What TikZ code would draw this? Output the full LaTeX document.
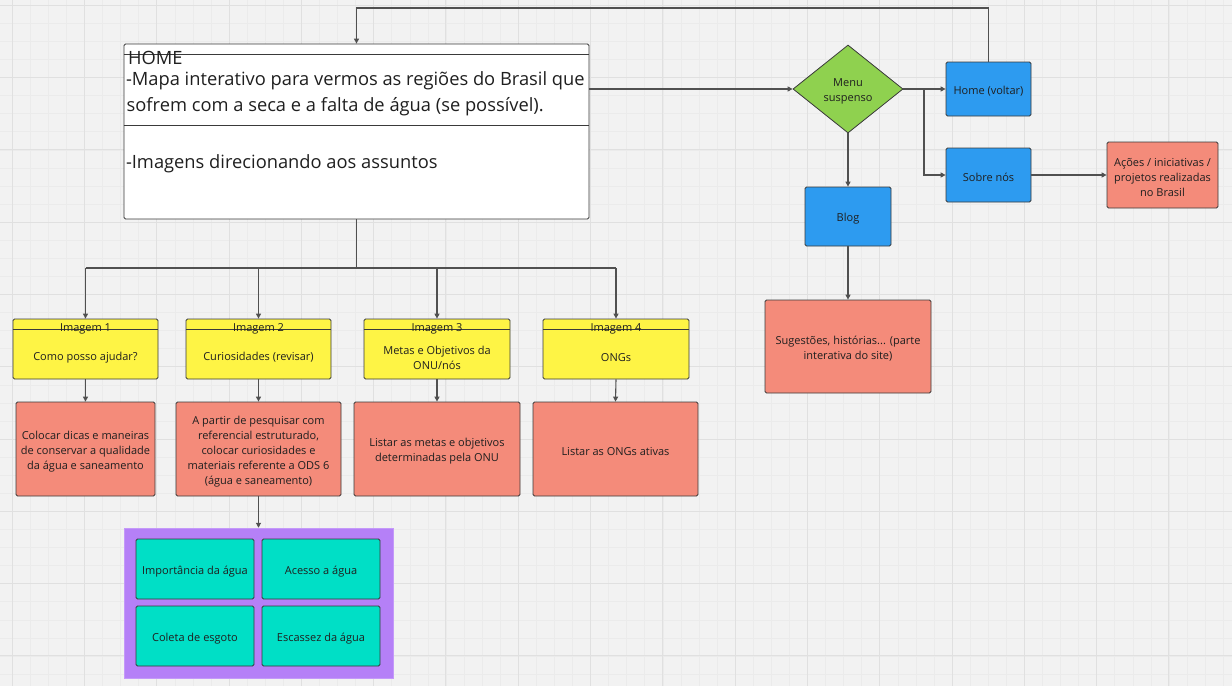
\documentclass[tikz,border=0pt]{standalone}
\usepackage{fontspec}
\setmainfont{Open Sans}
\usetikzlibrary{shapes.geometric,arrows.meta,calc}
\definecolor{bgc}{HTML}{F2F2F2}
\definecolor{gridmin}{HTML}{EBEBEB}
\definecolor{gridmaj}{HTML}{E0E0E0}
\definecolor{edgec}{HTML}{3A3A3A}
\definecolor{linec}{HTML}{505050}
\definecolor{txt}{HTML}{1F1F1F}
\definecolor{yel}{HTML}{FEF445}
\definecolor{salmon}{HTML}{F48B7A}
\definecolor{blu}{HTML}{2D9BF0}
\definecolor{grn}{HTML}{8FD14F}
\definecolor{teal}{HTML}{00DFC6}
\definecolor{purp}{HTML}{B580F7}
\tikzset{
  box/.style={draw=edgec, line width=0.8pt, rounded corners=1.5pt, inner sep=0pt},
  yelbox/.style={box, fill=yel},
  redbox/.style={box, fill=salmon},
  blubox/.style={box, fill=blu},
  tealbox/.style={box, fill=teal},
  lbl/.style={inner sep=0pt, text=txt, align=center, font=\fontsize{11}{15}\selectfont},
  txt/.style={label={[lbl, yshift=-2.5pt]center:{#1}}},
  big/.style={inner sep=0pt, text=txt, anchor=base west, font=\fontsize{18.3}{25}\selectfont},
  conn/.style={draw=linec, line width=1.1pt},
  arr/.style={conn, -{Triangle[length=5pt,width=5pt]}},
}
\begin{document}
\begin{tikzpicture}[x=1pt,y=-1pt]
\useasboundingbox (0,0) rectangle (1232,686);
\begin{scope}
\clip (0,0) rectangle (1232,686);
\fill[bgc] (0,0) rectangle (1232,686);
\foreach \i in {0,...,69} {
  \draw[gridmin, line width=0.5pt] ({-5.975+\i*18.075},0) -- ({-5.975+\i*18.075},686);
}
\foreach \i in {0,...,39} {
  \draw[gridmin, line width=0.5pt] (0,{-12.875+\i*18.075}) -- (1232,{-12.875+\i*18.075});
}
\foreach \i in {0,...,16} {
  \draw[gridmaj, line width=0.9pt] ({12.1+\i*72.3},0) -- ({12.1+\i*72.3},686);
}
\foreach \i in {0,...,9} {
  \draw[gridmaj, line width=0.9pt] (0,{5.2+\i*72.3}) -- (1232,{5.2+\i*72.3});
}
\end{scope}

% HOME box
\node[box, fill=white, minimum width=465pt, minimum height=175pt] (home) at (356.5,131.5) {};
\draw[edgec, line width=0.8pt] ([yshift=-11pt]home.north west) -- ([yshift=-11pt]home.north east);
\draw[edgec, line width=0.8pt] ([yshift=-82pt]home.north west) -- ([yshift=-82pt]home.north east);
\node[big] (hometitle) at (128,64.3) {HOME};
\node[big] (hometext1) at (125.8,85.5) {-Mapa interativo para vermos as regiões do Brasil que};
\node[big] (hometext2) at (126.5,111) {sofrem com a seca e a falta de água (se possível).};
\node[big] (homeimg) at (125.8,168) {-Imagens direcionando aos assuntos};

% Menu
\node[diamond, draw=edgec, line width=0.8pt, fill=grn, inner sep=0pt, minimum width=110pt, minimum height=88pt, label={[lbl, yshift=-2pt]center:{Menu\\suspenso}}] (menu) at (848,89) {};
\node[blubox, minimum width=85pt, minimum height=54pt, txt={Home (voltar)}] (homev) at (988.5,89) {};
\node[blubox, minimum width=85pt, minimum height=54pt, txt={Sobre nós}] (sobre) at (988.5,175) {};
\node[redbox, minimum width=111pt, minimum height=66pt, txt={Ações / iniciativas /\\projetos realizadas\\no Brasil}] (acoes) at (1162.5,175) {};
\node[blubox, minimum width=86pt, minimum height=59pt, txt={Blog}] (blog) at (848,216.5) {};
\node[redbox, minimum width=166pt, minimum height=93pt, txt={Sugestões, histórias... (parte\\interativa do site)}] (sug) at (848,346.5) {};

% Yellow boxes
\node[yelbox, minimum width=145pt, minimum height=60pt] (img1) at (85.5,349) {};
\node[yelbox, minimum width=145pt, minimum height=60pt] (img2) at (258.5,349) {};
\node[yelbox, minimum width=146pt, minimum height=60pt] (img3) at (437,349) {};
\node[yelbox, minimum width=146pt, minimum height=60pt] (img4) at (616,349) {};
\foreach \n/\t/\b in {img1/Imagem 1/Como posso ajudar?, img2/Imagem 2/Curiosidades (revisar), img3/Imagem 3/{Metas e Objetivos da\\ONU/nós}, img4/Imagem 4/ONGs} {
  \draw[edgec, line width=0.8pt] ([yshift=-11pt]\n.north west) -- ([yshift=-11pt]\n.north east);
  \node[lbl] (\n h) at ([yshift=-10.5pt]\n.north) {\t};
  \node[lbl] (\n b) at ([yshift=-8.5pt]\n.center) {\b};
}

% Red boxes
\node[redbox, minimum width=139pt, minimum height=94pt, txt={Colocar dicas e maneiras\\de conservar a qualidade\\da água e saneamento}] (r1) at (85.5,449) {};
\node[redbox, minimum width=165pt, minimum height=94pt, txt={A partir de pesquisar com\\referencial estruturado,\\colocar curiosidades e\\materiais referente a ODS 6\\(água e saneamento)}] (r2) at (258.5,449) {};
\node[redbox, minimum width=166pt, minimum height=94pt, txt={Listar as metas e objetivos\\determinadas pela ONU}] (r3) at (437,449) {};
\node[redbox, minimum width=165pt, minimum height=94pt, txt={Listar as ONGs ativas}] (r4) at (615.5,449) {};

% Purple group
\node[fill=purp, draw=purp!80!white, line width=0.5pt, minimum width=269pt, minimum height=150pt, inner sep=0pt] (grp) at (258.5,603) {};
\node[tealbox, minimum width=118pt, minimum height=60pt, txt={Importância da água}] (t1) at (195,569) {};
\node[tealbox, minimum width=118pt, minimum height=60pt, txt={Acesso a água}] (t2) at (321,569) {};
\node[tealbox, minimum width=118pt, minimum height=60pt, txt={Coleta de esgoto}] (t3) at (195,636) {};
\node[tealbox, minimum width=118pt, minimum height=60pt, txt={Escassez da água}] (t4) at (321,636) {};

% Connectors
\coordinate (top) at (0,8);
\coordinate (bus) at (0,268);
\coordinate (br) at (924,89);
\draw[arr] (homev.north) |- (top -| home.north) -- (home.north);
\draw[arr] (menu.west -| home.east) -- (menu.west);
\draw[arr] (menu.east) -- (homev.west);
\draw[arr] (br) |- (sobre.west);
\draw[arr] (sobre.east) -- (acoes.west);
\draw[arr] (menu.south) -- (blog.north);
\draw[arr] (blog.south) -- (sug.north);
\draw[conn] (home.south) -- (home.south |- bus);
\draw[conn] (img1.north |- bus) -- (img4.north |- bus);
\foreach \i in {1,2,3,4} {
  \draw[arr] (img\i.north |- bus) -- (img\i.north);
  \draw[arr] (img\i.south) -- (r\i.north);
}
\draw[arr] (r2.south) -- (grp.north);
\end{tikzpicture}
\end{document}
